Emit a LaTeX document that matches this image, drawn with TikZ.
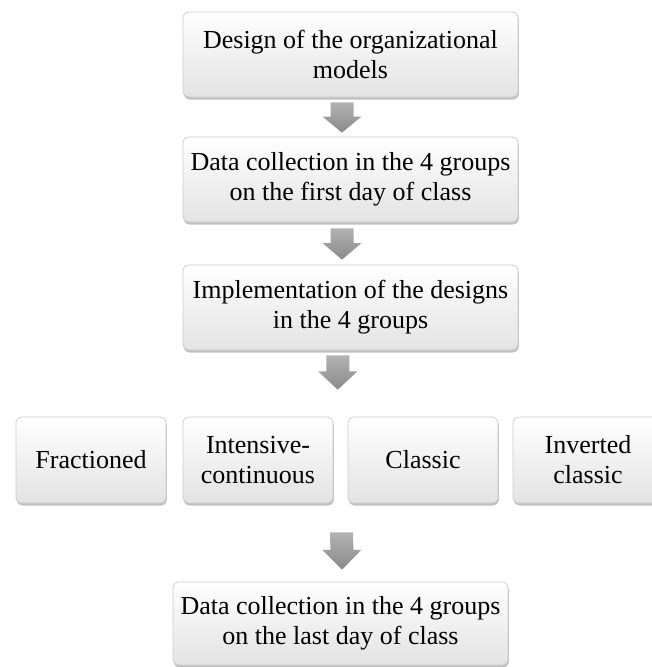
\documentclass[tikz,border=0pt]{standalone}
\usepackage{fontspec}
\setmainfont{Liberation Serif}
\usetikzlibrary{shadows,calc}
\tikzset{
  stepbox/.style={draw=black!20, line width=0.7pt, rounded corners=6pt,
    top color=white, middle color=white, bottom color=black!11,
    drop shadow={shadow xshift=0.8pt, shadow yshift=-2.5pt, opacity=0.35, fill=black!70},
    align=center, inner sep=2pt, font=\fontsize{26}{30}\selectfont, text=black},
  wide/.style={stepbox, minimum width=335pt, minimum height=85pt},
  small/.style={stepbox, minimum width=150pt, minimum height=86pt},
  arrowfill/.style={top color=black!30, bottom color=black!46, draw=none}
}
\newcommand{\dnarrow}[2]{% top coord, tip coord
  \shade[arrowfill]
    ($(#1)+(-11.5,0)$) -- ($(#1)+(11.5,0)$) -- ($(#1)!0.47!(#2)+(11.5,0)$) --
    ($(#1)!0.47!(#2)+(19.5,0)$) -- (#2) -- ($(#1)!0.47!(#2)+(-19.5,0)$) --
    ($(#1)!0.47!(#2)+(-11.5,0)$) -- cycle;}
\begin{document}
\begin{tikzpicture}[x=1pt,y=-1pt]
\useasboundingbox (0,0) rectangle (652,667);
\begin{scope}
\clip (0,0) rectangle (652,667);
\node[wide] (b1) at (350.5,54.5) {Design of the organizational\\models};
\node[wide] (b2) at (350.5,179.5) {Data collection in the 4 groups\\on the first day of class};
\node[wide] (b3) at (350.5,307.5) {Implementation of the designs\\in the 4 groups};
\node[small] (f1) at (91,460) {Fractioned};
\node[small] (f2) at (258,460) {Intensive-\\continuous};
\node[small] (f3) at (423,460) {Classic};
\node[small] (f4) at (588,460) {Inverted\\classic};
\node[stepbox, minimum width=335pt, minimum height=83pt] (b5) at (340.5,623.5) {Data collection in the 4 groups\\on the last day of class};
\end{scope}
\coordinate (a1t) at ($(b1.south)+(-8.5,5)$);
\coordinate (a1b) at ($(b2.north)+(-8.5,-4)$);
\coordinate (a2t) at ($(b2.south)+(-8.5,6)$);
\coordinate (a2b) at ($(b3.north)+(-8.5,-5)$);
\coordinate (a3t) at ($(b3.south)+(-12.5,5)$);
\coordinate (a3b) at ($(f3.north west)+(-10,-27)$);
\coordinate (a4t) at ($(f3.south west)+(-6,29)$);
\coordinate (a4b) at ($(b5.north)+(1.5,-12)$);
\dnarrow{a1t}{a1b}
\dnarrow{a2t}{a2b}
\dnarrow{a3t}{a3b}
\dnarrow{a4t}{a4b}
\end{tikzpicture}
\end{document}
